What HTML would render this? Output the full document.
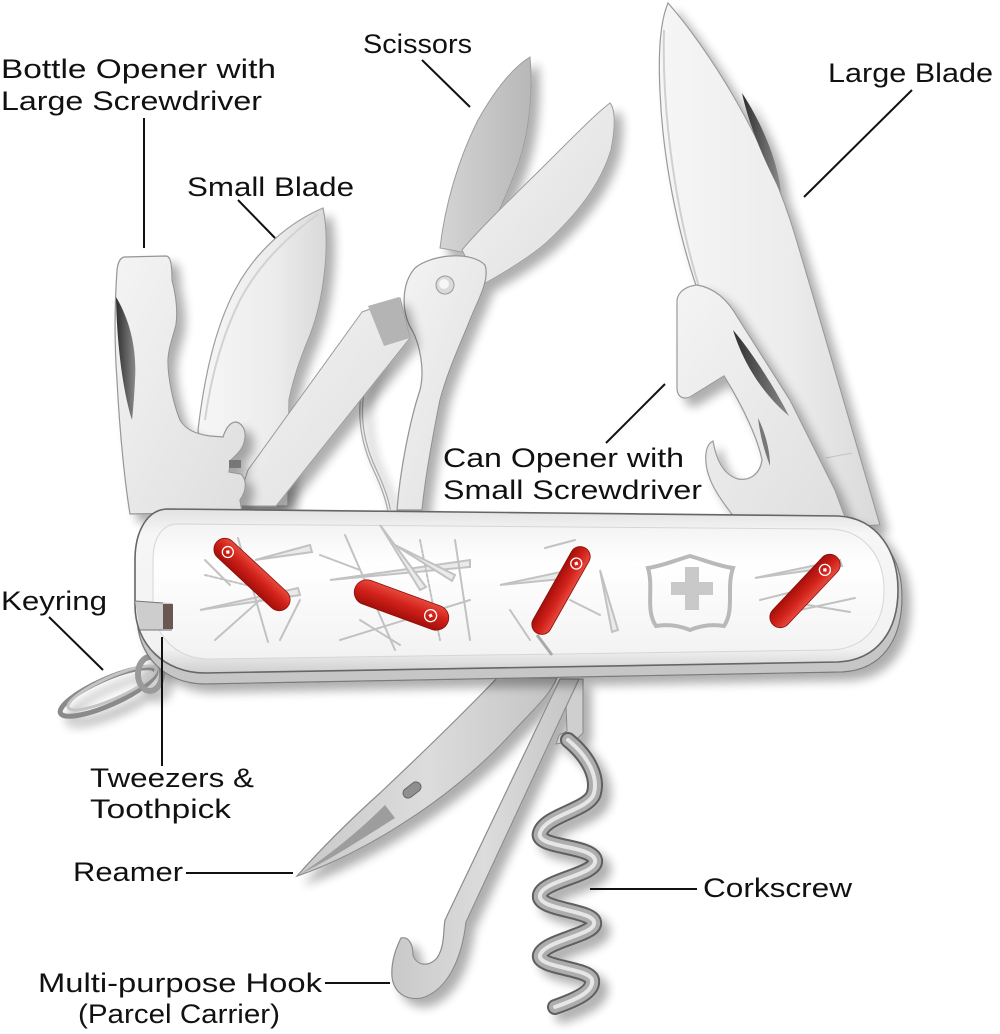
<!DOCTYPE html>
<html><head><meta charset="utf-8"><style>html,body{margin:0;padding:0;background:#fff}svg{display:block}</style></head>
<body>
<svg width="1000" height="1034" viewBox="0 0 1000 1034" xmlns="http://www.w3.org/2000/svg">
<defs>
<filter id="sh" x="-30%" y="-30%" width="160%" height="160%">
<feGaussianBlur in="SourceAlpha" stdDeviation="5"/>
<feOffset dx="8" dy="8" result="b"/>
<feComponentTransfer><feFuncA type="linear" slope="0.32"/></feComponentTransfer>
<feMerge><feMergeNode/><feMergeNode in="SourceGraphic"/></feMerge>
</filter>
<linearGradient id="met" x1="0" y1="0" x2="1" y2="0"><stop offset="0" stop-color="#f6f6f6"/><stop offset="0.6" stop-color="#ececec"/><stop offset="1" stop-color="#d9d9d9"/></linearGradient>
<linearGradient id="met2" x1="0" y1="0" x2="1" y2="1"><stop offset="0" stop-color="#f4f4f4"/><stop offset="1" stop-color="#dedede"/></linearGradient>
<linearGradient id="grey" x1="0" y1="0" x2="1" y2="0"><stop offset="0" stop-color="#d4d4d4"/><stop offset="1" stop-color="#b8b8b8"/></linearGradient>
<linearGradient id="bot" x1="0" y1="0" x2="1" y2="0"><stop offset="0" stop-color="#c9c9c9"/><stop offset="0.5" stop-color="#dcdcdc"/><stop offset="1" stop-color="#c4c4c4"/></linearGradient>
<linearGradient id="bezel" x1="0" y1="0" x2="0" y2="1"><stop offset="0" stop-color="#e2e2e2"/><stop offset="0.15" stop-color="#f6f6f6"/><stop offset="0.85" stop-color="#f2f2f2"/><stop offset="1" stop-color="#cfcfcf"/></linearGradient>
<linearGradient id="panel" x1="0" y1="0" x2="0" y2="1"><stop offset="0" stop-color="#f3f3f3"/><stop offset="0.3" stop-color="#ffffff"/><stop offset="1" stop-color="#f2f2f2"/></linearGradient>
<linearGradient id="red" x1="0" y1="0" x2="0" y2="1"><stop offset="0" stop-color="#e84a3e"/><stop offset="0.45" stop-color="#d1221a"/><stop offset="1" stop-color="#a40f0a"/></linearGradient>
<linearGradient id="slot" x1="0" y1="0" x2="1" y2="0"><stop offset="0" stop-color="#2e2e2e"/><stop offset="1" stop-color="#8a8a8a"/></linearGradient>
</defs>
<rect width="1000" height="1034" fill="#fff"/>

<!-- keyring (behind handle) -->
<g filter="url(#sh)" fill="none">
<ellipse cx="108" cy="692" rx="52" ry="13" transform="rotate(-24 108 692)" stroke="#8a8a8a" stroke-width="5"/>
<ellipse cx="112" cy="688" rx="48" ry="11" transform="rotate(-24 112 688)" stroke="#c4c4c4" stroke-width="3"/>
<ellipse cx="150" cy="674" rx="12" ry="17" stroke="#9a9a9a" stroke-width="6"/>
</g>

<!-- bottom tools -->
<g filter="url(#sh)">
<path d="M565,679 L583,679 L583,733 L575,741 L556,744 L559,735 L567,731 Z" fill="#cfcfcf" stroke="#888" stroke-width="1"/>
<path d="M568,740 C590,758 598,778 594,793 C590,810 545,815 540,833 C535,848 592,845 595,860 C598,875 543,880 540,895 C537,910 592,910 594,922 C597,935 545,940 540,955 C537,968 590,968 592,980 C594,992 575,1000 555,1007" fill="none" stroke="#5e5e5e" stroke-width="16" stroke-linecap="round"/>
<path d="M568,740 C590,758 598,778 594,793 C590,810 545,815 540,833 C535,848 592,845 595,860 C598,875 543,880 540,895 C537,910 592,910 594,922 C597,935 545,940 540,955 C537,968 590,968 592,980 C594,992 575,1000 555,1007" fill="none" stroke="#adadad" stroke-width="12" stroke-linecap="round"/>
<path d="M568,740 C590,758 598,778 594,793 C590,810 545,815 540,833 C535,848 592,845 595,860 C598,875 543,880 540,895 C537,910 592,910 594,922 C597,935 545,940 540,955 C537,968 590,968 592,980 C594,992 575,1000 555,1007" fill="none" stroke="#e6e6e6" stroke-width="4" stroke-linecap="round"/>
<path d="M497,678 L557,678 C550,695 535,708 510,735 C480,768 440,800 405,822 C370,845 330,865 297,876 C320,850 350,820 380,793 C415,760 455,722 497,678 Z" fill="url(#bot)" stroke="#8c8c8c" stroke-width="1.2"/>
<path d="M300,874 C330,860 360,840 395,818 L385,805 C360,830 330,855 300,874 Z" fill="#9d9d9d"/>
<rect x="402" y="785" width="20" height="10" rx="5" transform="rotate(-38 412 790)" fill="#8f8f8f" stroke="#666" stroke-width="1"/>
<path d="M560,679 L579,679 L466,922 C462,958 448,990 422,998 C405,1001 394,992 392,977 C391,964 395,950 401,938 C409,936 413,945 413,955 C416,965 428,968 437,958 C445,946 443,932 445,920 Z" fill="url(#bot)" stroke="#8c8c8c" stroke-width="1.2"/>
</g>

<!-- large blade -->
<g filter="url(#sh)">
<path d="M668,3 C705,45 765,135 795,235 C825,335 855,440 880,525 L835,528 C790,452 740,382 710,322 C680,252 663,162 660,92 C658,52 660,22 668,3 Z" fill="url(#met)" stroke="#9a9a9a" stroke-width="1.2"/>
<path d="M664,30 C662,100 672,200 700,290" fill="none" stroke="#d0d0d0" stroke-width="2"/>
<path d="M742,93 C760,120 778,160 781,193 C767,166 750,130 742,93 Z" fill="url(#slot)"/>
<path d="M826,458 L852,453" stroke="#c4c4c4" stroke-width="1"/>
</g>

<!-- can opener -->
<g filter="url(#sh)">
<path d="M697,285 C715,288 728,300 738,318 L790,400 L835,490 L848,525 L738,522 C725,505 708,485 706,463 C705,452 707,444 713,441 C716,458 722,474 738,479 C750,481 760,474 762,460 C758,440 745,410 724,376 L690,397 C682,400 677,396 677,388 L677,300 C678,292 686,286 697,285 Z" fill="url(#met2)" stroke="#9a9a9a" stroke-width="1.2"/>
<path d="M733,330 C752,352 776,390 789,416 C770,400 746,372 733,330 Z" fill="url(#slot)"/>
<path d="M758,418 C765,432 770,450 770,466 C764,450 760,435 758,418 Z" fill="#777"/>
</g>

<!-- scissors -->
<g filter="url(#sh)">
<path d="M530,57 C533,90 530,130 518,165 C505,200 490,230 478,255 L440,248 C445,205 458,160 478,120 C495,90 512,68 530,57 Z" fill="url(#grey)" stroke="#9c9c9c" stroke-width="1"/>
<path d="M610,103 C616,110 615,130 611,150 C600,186 576,215 546,243 C526,260 502,274 480,286 L462,250 C480,228 520,190 555,155 C580,130 598,112 610,103 Z" fill="url(#met2)" stroke="#9c9c9c" stroke-width="1"/>
<path d="M415,268 C430,255 470,250 485,265 C490,280 478,300 470,320 C460,345 448,370 440,400 C432,440 425,480 422,510 L397,510 C400,470 410,420 420,390 C425,370 420,345 412,330 C402,315 400,285 415,268 Z" fill="url(#met2)" stroke="#949494" stroke-width="1.2"/>
<circle cx="445" cy="285" r="9" fill="#dadada" stroke="#999" stroke-width="1"/>
<circle cx="444" cy="284" r="5" fill="#f6f6f6"/>
<path d="M378,356 C356,386 356,430 375,470 C382,485 387,498 389,510" fill="none" stroke="#a8a8a8" stroke-width="4"/>
<path d="M378,356 C356,386 356,430 375,470 C382,485 387,498 389,510" fill="none" stroke="#ececec" stroke-width="1.5"/>
</g>

<!-- small blade -->
<g filter="url(#sh)">
<path d="M323,208 C330,240 326,300 306,345 C296,370 291,390 289,400 L288,506 L210,506 L198,430 C204,380 214,330 235,290 C256,250 290,222 323,208 Z" fill="url(#met)" stroke="#9e9e9e" stroke-width="1.2"/>
<path d="M318,214 C290,235 260,262 240,300 C225,330 212,370 205,420" fill="none" stroke="#d2d2d2" stroke-width="2"/>
</g>
<!-- lever bar over small blade -->
<g filter="url(#sh)">
<path d="M362,312 L400,298 L410,338 L276,506 L236,506 L248,470 Z" fill="url(#met2)" stroke="#9a9a9a" stroke-width="1"/>
<path d="M368,306 L399,297 L410,338 L384,346 Z" fill="#b4b4b4"/>
</g>

<!-- bottle opener -->
<g filter="url(#sh)">
<path d="M124,257 L166,256 C170,256 172,262 172,280 C176,295 178,310 176,325 C172,340 168,350 168,362 C168,375 172,400 180,420 C186,430 196,434 210,436 L223,437 C226,428 230,422 236,422 C242,423 246,430 245,438 C244,447 240,452 231,460 L229,472 L241,474 C247,480 247,490 240,500 L242,512 L130,514 C126,490 120,440 117,380 C114,340 115,300 117,270 C118,262 120,258 124,257 Z" fill="url(#met2)" stroke="#969696" stroke-width="1.2"/>
<path d="M116,297 C130,320 137,350 135,380 C134,400 133,410 132,420 C124,395 117,350 116,297 Z" fill="url(#slot)"/>
<rect x="229" y="460" width="12" height="8" fill="#777"/>
</g>

<!-- handle -->
<g filter="url(#sh)">
<path d="M165,520 L842,526 C884,528 902,560 902,597 C902,640 882,670 842,672 L205,684 C165,684 137,656 137,616 L137,560 C137,535 145,520 165,520 Z" fill="#c6c6c6" stroke="#7a7a7a" stroke-width="1.2"/>
<path d="M168,509 L838,516 C878,518 898,552 898,590 C898,630 878,660 838,662 L205,673 C165,673 135,645 135,605 L135,560 C135,530 148,509 168,509 Z" fill="url(#bezel)" stroke="#666" stroke-width="1.6"/>
</g>
<path d="M178,524 L832,529 C864,531 884,556 884,590 C884,624 866,648 832,650 L210,659 C176,659 153,636 153,602 L153,560 C153,538 162,524 178,524 Z" fill="url(#panel)" stroke="#d6d6d6" stroke-width="1"/>
<path d="M135,601 L172,603 L172,630 L140,630 Z" fill="#cdcdcd"/>
<rect x="163" y="604" width="10" height="25" fill="#6a5752"/>
<path d="M135,601 L163,603 M140,630 L172,630" stroke="#777" stroke-width="1"/>

<!-- sketch tools on panel -->
<g stroke="#c2c2c2" stroke-width="2" fill="#eaeaea" stroke-linecap="round">
<path d="M200,610 L298,588 L300,595 Z"/>
<path d="M205,575 L275,592" fill="none" stroke-dasharray="3 2"/>
<path d="M238,538 L268,642" fill="none"/>
<path d="M255,560 L310,545 L312,552 Z"/>
<path d="M215,640 L260,600" fill="none"/>
<path d="M280,640 L300,600" fill="none"/>
<path d="M205,560 L230,585" fill="none"/>
<path d="M330,580 L470,560 L470,567 Z"/>
<path d="M345,535 L395,650" fill="none"/>
<path d="M380,525 L420,590 L426,587 Z"/>
<path d="M420,540 L440,640" fill="none" stroke-dasharray="3 2"/>
<path d="M340,640 L470,600" fill="none"/>
<path d="M455,540 L470,640" fill="none"/>
<path d="M360,620 L400,645" fill="none"/>
<path d="M320,555 L360,570" fill="none"/>
<path d="M395,545 L455,575 L452,581 Z"/>
<path d="M500,585 L570,570 L572,578 Z"/>
<path d="M510,610 L530,640" fill="none"/>
<path d="M600,570 L618,630 L612,632 Z"/>
<path d="M545,548 L575,540" fill="none"/>
<path d="M570,600 L600,615" fill="none"/>
<path d="M755,578 L840,560 L842,566 Z"/>
<path d="M760,600 L820,585" fill="none"/>
<path d="M800,610 L855,598" fill="none"/>
<path d="M790,602 L850,612" fill="none"/>
</g>

<!-- shield logo -->
<path d="M648,568 C662,566 676,560 690,556 C704,560 718,566 733,568 C726,588 735,610 724,626 C712,624 700,626 690,630 C680,626 668,624 656,626 C645,610 654,588 648,568 Z" fill="none" stroke="#b9b9b9" stroke-width="4"/>
<rect x="685" y="567" width="14" height="43" fill="#c9c9c9"/>
<rect x="671" y="582" width="42" height="13" fill="#c9c9c9"/>

<!-- red knives -->
<g transform="translate(252 574.5) rotate(42.9)">
<rect x="-48" y="-11" width="96" height="22" rx="11" fill="url(#red)" stroke="#8a0f0a" stroke-width="0.8"/>
<circle cx="-33" cy="0" r="5.5" fill="none" stroke="#fff" stroke-width="1.3"/><path d="M-35,0 h4 M-33,-2 v4" stroke="#fff" stroke-width="1.6"/>
</g>
<g transform="translate(401.5 605) rotate(20.1)">
<rect x="-49.5" y="-12.5" width="99" height="25" rx="12.5" fill="url(#red)" stroke="#8a0f0a" stroke-width="0.8"/>
<circle cx="31" cy="0" r="6" fill="none" stroke="#fff" stroke-width="1.3"/><path d="M29,0 h4 M31,-2 v4" stroke="#fff" stroke-width="1.6"/>
</g>
<g transform="translate(561 590.5) rotate(119.5)">
<rect x="-49" y="-10" width="98" height="20" rx="10" fill="url(#red)" stroke="#8a0f0a" stroke-width="0.8"/>
<circle cx="-31" cy="0" r="5.5" fill="none" stroke="#fff" stroke-width="1.3"/><path d="M-33,0 h4 M-31,-2 v4" stroke="#fff" stroke-width="1.6"/>
</g>
<path d="M537,635 L552,655" stroke="#aaa" stroke-width="3"/>
<g transform="translate(805 591) rotate(133.3)">
<rect x="-46.5" y="-10.5" width="93" height="21" rx="10.5" fill="url(#red)" stroke="#8a0f0a" stroke-width="0.8"/>
<circle cx="-29" cy="0" r="5.5" fill="none" stroke="#fff" stroke-width="1.3"/><path d="M-31,0 h4 M-29,-2 v4" stroke="#fff" stroke-width="1.6"/>
</g>

<!-- leader lines -->
<g stroke="#111" stroke-width="2" fill="none">
<line x1="144" y1="118" x2="144" y2="248"/>
<line x1="422" y1="60" x2="470" y2="107"/>
<line x1="238" y1="200" x2="275" y2="238"/>
<line x1="912" y1="90" x2="804" y2="197"/>
<line x1="665" y1="384" x2="606" y2="443"/>
<line x1="49" y1="617" x2="103" y2="670"/>
<line x1="162" y1="637" x2="162" y2="766"/>
<line x1="186" y1="873" x2="293" y2="873"/>
<line x1="590" y1="889" x2="697" y2="889"/>
<line x1="325" y1="983" x2="390" y2="983"/>
</g>

<!-- labels -->
<g font-family="'Liberation Sans', Arial, sans-serif" font-size="27" fill="#111">
<text x="1" y="78" textLength="275" lengthAdjust="spacingAndGlyphs">Bottle Opener with</text>
<text x="1" y="110" textLength="261" lengthAdjust="spacingAndGlyphs">Large Screwdriver</text>
<text x="363" y="53" textLength="109" lengthAdjust="spacingAndGlyphs">Scissors</text>
<text x="187" y="196" textLength="167" lengthAdjust="spacingAndGlyphs">Small Blade</text>
<text x="828" y="82" textLength="165" lengthAdjust="spacingAndGlyphs">Large Blade</text>
<text x="443" y="467" textLength="241" lengthAdjust="spacingAndGlyphs">Can Opener with</text>
<text x="443" y="499" textLength="259" lengthAdjust="spacingAndGlyphs">Small Screwdriver</text>
<text x="1" y="610" textLength="106" lengthAdjust="spacingAndGlyphs">Keyring</text>
<text x="90" y="787" textLength="164" lengthAdjust="spacingAndGlyphs">Tweezers &amp;</text>
<text x="90" y="818" textLength="141" lengthAdjust="spacingAndGlyphs">Toothpick</text>
<text x="73" y="881" textLength="110" lengthAdjust="spacingAndGlyphs">Reamer</text>
<text x="703" y="897" textLength="149" lengthAdjust="spacingAndGlyphs">Corkscrew</text>
<text x="38" y="992" textLength="284" lengthAdjust="spacingAndGlyphs">Multi-purpose Hook</text>
<text x="78" y="1023" textLength="202" lengthAdjust="spacingAndGlyphs">(Parcel Carrier)</text>
</g>
</svg>
</body></html>
